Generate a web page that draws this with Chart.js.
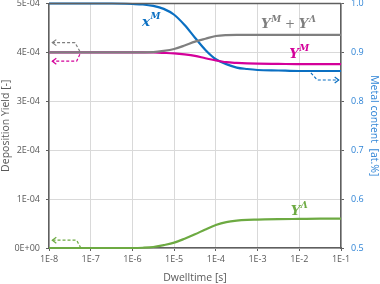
<!DOCTYPE html>
<html><head><meta charset="utf-8">
<script src="https://cdn.jsdelivr.net/npm/chart.js@4"></script>
<style>html,body{margin:0;padding:0;background:#fff}</style>
</head><body>
<canvas id="c" width="380" height="284"></canvas>
<script>
// ---- data ----
const dwellTimes = [1e-8, 1e-7, 3.16e-7, 1e-6, 1.78e-6, 3.16e-6, 5.62e-6, 1e-5, 1.78e-5, 3.16e-5, 5.62e-5, 1e-4, 1.78e-4, 3.16e-4, 5.62e-4, 1e-3, 3.16e-3, 1e-2, 3.16e-2, 1e-1];
const yieldSum   = [4.00e-4, 4.00e-4, 4.00e-4, 4.00e-4, 4.001e-4, 4.005e-4, 4.03e-4, 4.07e-4, 4.14e-4, 4.22e-4, 4.28e-4, 4.335e-4, 4.355e-4, 4.36e-4, 4.36e-4, 4.36e-4, 4.36e-4, 4.36e-4, 4.36e-4, 4.36e-4];
const yieldM     = [4.00e-4, 4.00e-4, 4.00e-4, 4.00e-4, 4.00e-4, 3.998e-4, 3.99e-4, 3.98e-4, 3.96e-4, 3.93e-4, 3.88e-4, 3.835e-4, 3.80e-4, 3.785e-4, 3.775e-4, 3.77e-4, 3.765e-4, 3.76e-4, 3.76e-4, 3.76e-4];
const yieldL     = [0, 0, 0, 0, 0.005e-4, 0.02e-4, 0.06e-4, 0.11e-4, 0.19e-4, 0.28e-4, 0.38e-4, 0.47e-4, 0.53e-4, 0.56e-4, 0.575e-4, 0.58e-4, 0.59e-4, 0.595e-4, 0.60e-4, 0.60e-4];
const metalContent = [1.000, 1.000, 1.000, 0.999, 0.998, 0.995, 0.989, 0.977, 0.956, 0.930, 0.905, 0.886, 0.876, 0.869, 0.866, 0.864, 0.863, 0.862, 0.862, 0.862];
const xTickValues = [1e-8, 1e-7, 1e-6, 1e-5, 1e-4, 1e-3, 1e-2, 1e-1];
const yieldTickValues = [0, 1e-4, 2e-4, 3e-4, 4e-4, 5e-4];
const contentTickValues = [0.5, 0.6, 0.7, 0.8, 0.9, 1.0];

const GRAY='#7F7F7F', MAG='#D4009A', GREEN='#6DAA42', BLUE='#0A6FC2', TXT='#595959', BLUETXT='#2F84D6', GRID='#D9D9D9', AX='#5F5F5F';

function pts(arr){ return dwellTimes.map((t,i)=>({x:t,y:arr[i]})); }
function fmtSci(v){
  if (Math.abs(v) < 1e-12) return '0E+00';
  const e = Math.floor(Math.log10(v)+1e-9);
  const m = Math.round(v/Math.pow(10,e));
  return m + 'E' + (e<0?'-':'+') + String(Math.abs(e)).padStart(2,'0');
}
function fmtDecade(v){ return '1E' + Math.round(Math.log10(v)); }

const tickFont = {family:'Open Sans', size:9};
const titleFont = {family:'Open Sans', size:10.5};

function drawMath(ctx, parts, x, y, color, align){
  const mainF = 'italic bold 13.5px "DejaVu Serif"';
  const supF = 'italic bold 9px "DejaVu Serif"';
  const plainF = '12px "DejaVu Serif"';
  let total = 0;
  const w = [];
  parts.forEach(p=>{
    ctx.font = p.plain ? plainF : mainF; let a = ctx.measureText(p.t).width;
    let b = 0; if (p.sup){ ctx.font = supF; b = ctx.measureText(p.sup).width + 0.5; }
    w.push([a,b]); total += a+b;
  });
  let cx = align==='center' ? x - total/2 : x;
  ctx.fillStyle = color; ctx.textBaseline = 'alphabetic'; ctx.textAlign='left';
  parts.forEach((p,i)=>{
    ctx.font = p.plain ? plainF : mainF; ctx.fillText(p.t, cx, y); cx += w[i][0];
    if (p.sup){ ctx.font = supF; ctx.fillText(p.sup, cx+0.5, y-6.5); cx += w[i][1]; }
  });
}

function arrow(ctx, points, color, dir){
  ctx.save();
  ctx.strokeStyle = color; ctx.lineWidth = 1.2; ctx.setLineDash([3,2]);
  ctx.beginPath(); ctx.moveTo(points[0][0], points[0][1]);
  for (let i=1;i<points.length;i++) ctx.lineTo(points[i][0], points[i][1]);
  ctx.stroke(); ctx.setLineDash([]);
  const [ex,ey] = points[points.length-1];
  ctx.beginPath(); ctx.moveTo(ex - dir*4, ey-3); ctx.lineTo(ex, ey); ctx.lineTo(ex - dir*4, ey+3); ctx.stroke();
  ctx.restore();
}

const annot = {
  id:'annot',
  afterDatasetsDraw(chart){
    const {ctx, chartArea:a, scales:{x,y,y1}} = chart;
    ctx.save();
    ctx.strokeStyle = AX; ctx.lineWidth = 1.5; ctx.beginPath(); ctx.moveTo(a.left, a.top); ctx.lineTo(a.right, a.top); ctx.stroke();
    const X = v=>x.getPixelForValue(v), Y = v=>y.getPixelForValue(v), Y1 = v=>y1.getPixelForValue(v);
    arrow(ctx, [[X(5.5e-8),Y(4.02e-4)],[X(4.2e-8),Y(4.2e-4)],[X(1.2e-8),Y(4.2e-4)]], GRAY, -1);
    arrow(ctx, [[X(5.5e-8),Y(3.96e-4)],[X(4.6e-8),Y(3.82e-4)],[X(1.2e-8),Y(3.82e-4)]], MAG, -1);
    arrow(ctx, [[X(5.8e-8),Y(0)],[X(4.6e-8),Y(0.16e-4)],[X(1.2e-8),Y(0.16e-4)]], GREEN, -1);
    arrow(ctx, [[X(1.9e-2),Y1(0.858)],[X(2.7e-2),Y1(0.8436)],[X(8.8e-2),Y1(0.8436)]], BLUE, 1);
    drawMath(ctx, [{t:'x', sup:'M'}], X(1.7e-6), Y1(0.955), BLUE, 'left');
    drawMath(ctx, [{t:'Y', sup:'M'},{t:' + ', plain:true},{t:'Y', sup:'Λ'}], X(5.5e-3), Y(4.49e-4), GRAY, 'center');
    drawMath(ctx, [{t:'Y', sup:'M'}], X(1.0e-2), Y(3.89e-4), MAG, 'center');
    drawMath(ctx, [{t:'Y', sup:'Λ'}], X(1.0e-2), Y(0.68e-4), GREEN, 'center');
    ctx.restore();
  }
};

const lineOpts = {pointRadius:0, borderWidth:2.2, cubicInterpolationMode:'monotone', clip:false, fill:false};
function noVPad(s){ s.paddingTop = 0; s.paddingBottom = 0; }

new Chart(document.getElementById('c'), {
  type:'line',
  data:{datasets:[
    {label:'Y^M + Y^Λ', data:pts(yieldSum), borderColor:GRAY, yAxisID:'y', ...lineOpts},
    {label:'Y^M', data:pts(yieldM), borderColor:MAG, yAxisID:'y', ...lineOpts},
    {label:'Y^Λ', data:pts(yieldL), borderColor:GREEN, yAxisID:'y', ...lineOpts},
    {label:'x^M', data:pts(metalContent), borderColor:BLUE, yAxisID:'y1', ...lineOpts}
  ]},
  options:{
    responsive:false, animation:false, devicePixelRatio:1,
    layout:{padding:{top:3.5, right:0, left:0, bottom:0}},
    plugins:{legend:{display:false}, tooltip:{enabled:false}},
    scales:{
      x:{type:'logarithmic', min:1e-8, max:1e-1,
        afterBuildTicks:s=>{ s.ticks = xTickValues.map(v=>({value:v})); },
        ticks:{callback:v=>fmtDecade(v), color:TXT, font:tickFont, padding:3, maxRotation:0, autoSkip:false},
        grid:{color:GRID, tickColor:AX, tickLength:3, lineWidth:1},
        border:{color:AX, width:1.5},
        title:{display:true, text:'Dwelltime [s]', color:TXT, font:titleFont, padding:{top:1,bottom:0}},
        afterFit:s=>{ s.height = 36; s.paddingLeft = 0; s.paddingRight = 0; }
      },
      y:{position:'left', min:0, max:5e-4,
        afterBuildTicks:s=>{ s.ticks = yieldTickValues.map(v=>({value:v})); },
        ticks:{callback:v=>fmtSci(v), color:TXT, font:tickFont, padding:6},
        grid:{color:GRID, tickColor:AX, tickLength:3, lineWidth:1},
        border:{color:AX, width:1.5},
        title:{display:true, text:'Deposition Yield [-]', color:TXT, font:titleFont, padding:{top:0,bottom:2}},
        afterFit:s=>{ s.width = 49; noVPad(s); }
      },
      y1:{position:'right', min:0.5, max:1.0,
        afterBuildTicks:s=>{ s.ticks = contentTickValues.map(v=>({value:v})); },
        ticks:{callback:v=>v.toFixed(1), color:BLUETXT, font:tickFont, padding:7},
        grid:{drawOnChartArea:false, tickColor:AX, tickLength:3},
        border:{color:AX, width:1.5},
        title:{display:true, text:'Metal content  [at.%]', color:BLUETXT, font:titleFont, padding:{top:0,bottom:2}},
        afterFit:s=>{ s.width = 39; noVPad(s); }
      }
    }
  },
  plugins:[annot]
});
</script>
</body></html>
